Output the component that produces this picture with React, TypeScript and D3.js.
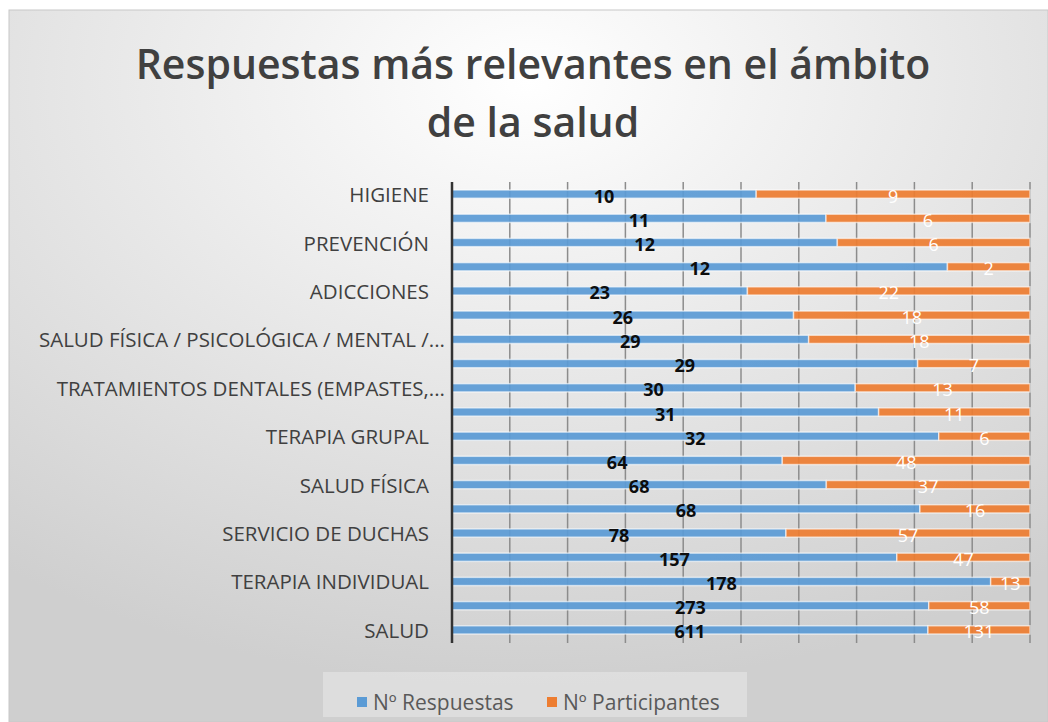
import React, { useRef, useEffect } from "react";
import * as d3 from "d3";

// categories top to bottom (only every other label is shown on the axis)
const labels = [
  "HIGIENE", "", "PREVENCIÓN", "", "ADICCIONES", "",
  "SALUD FÍSICA / PSICOLÓGICA / MENTAL /...", "",
  "TRATAMIENTOS DENTALES (EMPASTES,...", "", "TERAPIA GRUPAL", "",
  "SALUD FÍSICA", "", "SERVICIO DE DUCHAS", "", "TERAPIA INDIVIDUAL", "", "SALUD",
];
const respuestas = [10, 11, 12, 12, 23, 26, 29, 29, 30, 31, 32, 64, 68, 68, 78, 157, 178, 273, 611];
const participantes = [9, 6, 6, 2, 22, 18, 18, 7, 13, 11, 6, 48, 37, 16, 57, 47, 13, 58, 131];
const seriesNames = ["Nº Respuestas", "Nº Participantes"];
const seriesColors = ["#5B9BD5", "#ED7D31"];
const labelColors = ["#0d0d0d", "#ffffff"];
const titleLines = ["Respuestas más relevantes en el ámbito", "de la salud"];

const W = 1048;
const H = 722;
const FONT = "'Open Sans', sans-serif";

const App = () => {
  const svgRef = useRef(null);

  useEffect(() => {
    draw();
  }, []);

  const draw = () => {
    const svg = d3.select(svgRef.current);
    svg.selectAll("*").remove();

    const defs = svg.append("defs");
    const grad = defs.append("radialGradient")
      .attr("id", "bg")
      .attr("cx", "50%").attr("cy", "10%").attr("r", "85%");
    grad.append("stop").attr("offset", "0%").attr("stop-color", "#ffffff");
    grad.append("stop").attr("offset", "100%").attr("stop-color", "#cfcfcf");

    svg.append("rect")
      .attr("width", W).attr("height", H).attr("fill", "#ffffff");
    svg.append("rect")
      .attr("x", 9).attr("y", 10).attr("width", W - 9).attr("height", H - 10)
      .attr("fill", "url(#bg)")
      .attr("stroke", "#c8c8c8");

    // title
    svg.append("g").selectAll("text")
      .data(titleLines)
      .join("text")
      .attr("x", 533)
      .attr("y", (_, i) => 79 + i * 58)
      .attr("text-anchor", "middle")
      .attr("font-family", FONT)
      .attr("font-weight", 600)
      .attr("font-size", 41)
      .attr("fill", "#404040")
      .text(d => d);

    const x = d3.scaleLinear().domain([0, 1]).range([452, 1030]);
    const y = d3.scaleBand()
      .domain(d3.range(labels.length))
      .range([182, 642])
      .paddingInner(0.66)
      .paddingOuter(0.33);

    // grid
    svg.append("g").selectAll("line")
      .data(d3.range(1, 11).map(d => d / 10))
      .join("line")
      .attr("x1", d => x(d)).attr("x2", d => x(d))
      .attr("y1", 182).attr("y2", 643)
      .attr("stroke", "#8c8c8c")
      .attr("stroke-width", 1.5);

    const table = labels.map((l, i) => ({ i, r: respuestas[i], p: participantes[i] }));
    const stacked = d3.stack().keys(["r", "p"]).offset(d3.stackOffsetExpand)(table);

    const layers = svg.append("g").selectAll("g")
      .data(stacked)
      .join("g")
      .attr("fill", (_, k) => seriesColors[k])
      .attr("fill-opacity", 0.93);

    layers.selectAll("rect")
      .data(d => d)
      .join("rect")
      .attr("x", d => x(d[0]))
      .attr("width", d => x(d[1]) - x(d[0]))
      .attr("y", d => y(d.data.i))
      .attr("height", y.bandwidth())
      .attr("stroke", "#ffffff")
      .attr("stroke-opacity", 0.6)
      .attr("stroke-width", 1.5);

    // value labels
    stacked.forEach((layer, k) => {
      svg.append("g").selectAll("text")
        .data(layer)
        .join("text")
        .attr("x", d => (x(d[0]) + x(d[1])) / 2)
        .attr("y", d => y(d.data.i) + y.bandwidth() / 2 + 1.5)
        .attr("dominant-baseline", "central")
        .attr("text-anchor", "middle")
        .attr("font-family", FONT)
        .attr("font-weight", k === 0 ? 700 : 400)
        .attr("font-size", 18)
        .attr("fill", labelColors[k])
        .text(d => (k === 0 ? d.data.r : d.data.p));
    });

    // axis line
    svg.append("line")
      .attr("x1", 452).attr("x2", 452)
      .attr("y1", 182).attr("y2", 643)
      .attr("stroke", "#333333")
      .attr("stroke-width", 2.5);

    // category labels
    svg.append("g").selectAll("text")
      .data(labels.map((l, i) => ({ l, i })).filter(d => d.l))
      .join("text")
      .attr("x", d => (d.l.endsWith("...") ? 445 : 429))
      .attr("y", d => y(d.i) + y.bandwidth() / 2)
      .attr("dominant-baseline", "central")
      .attr("text-anchor", "end")
      .attr("font-family", FONT)
      .attr("font-size", 20.5)
      .attr("fill", "#404040")
      .text(d => d.l);

    // legend
    const lg = svg.append("g");
    lg.append("rect")
      .attr("x", 323).attr("y", 672).attr("width", 424).attr("height", 45)
      .attr("fill", "#ffffff").attr("fill-opacity", 0.3);
    const legendX = [357, 547];
    seriesNames.forEach((name, k) => {
      lg.append("rect")
        .attr("x", legendX[k]).attr("y", 697)
        .attr("width", 10).attr("height", 10)
        .attr("fill", seriesColors[k]);
      lg.append("text")
        .attr("x", legendX[k] + 16).attr("y", 702)
        .attr("dominant-baseline", "central")
        .attr("font-family", FONT)
        .attr("font-size", 21)
        .attr("fill", "#595959")
        .text(name);
    });
  };

  return (
    <svg ref={svgRef} width={W} height={H} style={{ position: "absolute", left: 0, top: 0 }} />
  );
};

export default App;
